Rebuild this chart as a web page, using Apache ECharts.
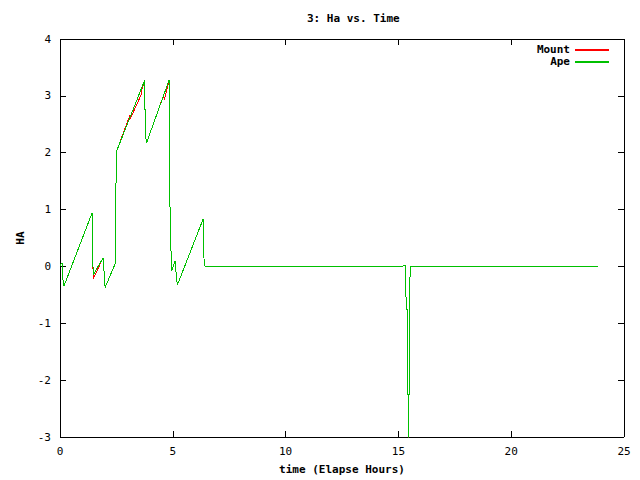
<!DOCTYPE html>
<html><head><meta charset="utf-8">
<script src="https://cdn.jsdelivr.net/npm/echarts@6/dist/echarts.min.js"></script>
<style>html,body{margin:0;padding:0;background:#fff;overflow:hidden}#c{width:640px;height:480px}
#c svg path{shape-rendering:crispEdges}</style>
</head><body><div id="c"></div>
<script>
const title = "3: Ha vs. Time";
const xName = "time (Elapse Hours)";
const yName = "HA";
const seriesNames = ["Mount", "Ape"];
const xTicks = [0, 5, 10, 15, 20, 25];
const yTicks = [-3, -2, -1, 0, 1, 2, 3, 4];

// Elapsed hours and HA values
const apeHours = [0, 0.05, 0.1, 0.12, 0.18, 1.42, 1.43, 1.47, 1.91, 2.0, 2.45, 2.47, 2.5, 2.53, 3.75, 3.77, 3.82, 3.86, 4.84, 4.86, 4.88, 4.95, 5.1, 5.13, 5.2, 6.35, 6.36, 6.43, 15.2, 15.21, 15.33, 15.34, 15.39, 15.4, 15.43, 15.44, 15.46, 15.47, 15.49, 15.5, 15.51, 15.52, 23.85];
const apeHA    = [0, 0.05, 0.05, -0.2, -0.34, 0.94, 0.75, -0.15, 0.15, -0.37, 0.05, 1.06, 2.02, 2.05, 3.27, 2.72, 2.17, 2.2, 3.28, 2.44, 0.77, -0.08, 0.1, -0.05, -0.33, 0.84, 0.21, 0, 0, 0.02, 0.02, -0.75, -0.76, -2.25, -2.26, -5, -5, -2.25, -2.24, -0.75, -0.74, 0, 0];

const mountHours = [0, 0.05, 0.1, 0.12, 0.18, 1.40, 1.42, 1.43, 1.45, 1.47, 1.49, 1.91, 2.0, 2.45, 2.47, 2.5, 2.53, 3.1, 3.12, 3.6, 3.62, 3.75, 3.77, 3.82, 3.86, 4.6, 4.62, 4.84, 4.86, 4.88, 4.95, 5.1, 5.13, 5.2, 6.35, 6.36, 6.43, 15.2, 15.21, 15.33, 15.34, 15.39, 15.4, 15.43, 15.44, 15.46, 15.47, 15.49, 15.5, 15.51, 15.52, 23.85];
const mountHA    = [0, 0.05, 0.05, -0.2, -0.34, 0.92, 0.94, 0.7, 0.3, -0.21, -0.2, 0.15, -0.37, 0.05, 1.06, 2.02, 2.05, 2.66, 2.6, 3.02, 3.1, 3.27, 2.72, 2.17, 2.2, 3.02, 2.92, 3.28, 2.44, 0.77, -0.08, 0.1, -0.05, -0.33, 0.84, 0.21, 0, 0, 0.02, 0.02, -0.75, -0.76, -2.25, -2.26, -5, -5, -2.25, -2.24, -0.75, -0.74, 0, 0];

const colors = ['#ff0000', '#00c000'];
const zip = (xs, ys) => xs.map((x, i) => [x, ys[i]]);
const font = "'DejaVu Sans Mono', monospace";

const chart = echarts.init(document.getElementById('c'), null, {renderer: 'svg', width: 640, height: 480});
const axisCommon = {
  axisLine: {show: true, onZero: false, lineStyle: {color: '#000', width: 1}},
  axisTick: {show: true, inside: true, length: 6, lineStyle: {color: '#000'}},
  splitLine: {show: false}
};
chart.setOption({
  animation: false,
  backgroundColor: '#fff',
  title: {text: title, left: 302, top: 8,
    textStyle: {fontFamily: font, fontWeight: 'bold', fontSize: 11, color: '#000'}},
  legend: {orient: 'vertical', right: 26, top: 39, align: 'right', icon: 'rect',
    itemWidth: 34, itemHeight: 2, itemGap: 1,
    itemStyle: {borderWidth: 0},
    textStyle: {fontFamily: font, fontWeight: 'bold', fontSize: 11, color: '#000'},
    data: seriesNames.map((n, i) => ({name: n, itemStyle: {color: colors[i], borderWidth: 0}}))},
  grid: {left: 60, right: 16, top: 39, bottom: 36},
  xAxis: [
    Object.assign({type: 'value', min: 0, max: 25, interval: 5, position: 'bottom',
      name: xName, nameLocation: 'middle', nameGap: 27,
      nameTextStyle: {fontFamily: font, fontWeight: 'bold', fontSize: 11, color: '#000'},
      axisLabel: {fontFamily: font, fontSize: 11, color: '#000', margin: 9}}, axisCommon),
    Object.assign({type: 'value', min: 0, max: 25, interval: 5, position: 'top',
      axisLabel: {show: false}}, axisCommon)
  ],
  yAxis: [
    Object.assign({type: 'value', min: -3, max: 4, interval: 1, position: 'left',
      name: yName, nameLocation: 'middle', nameGap: 34, nameRotate: 90,
      nameTextStyle: {fontFamily: font, fontWeight: 'bold', fontSize: 11, color: '#000'},
      axisLabel: {fontFamily: font, fontSize: 11, color: '#000', margin: 9}}, axisCommon),
    Object.assign({type: 'value', min: -3, max: 4, interval: 1, position: 'right',
      axisLabel: {show: false}}, axisCommon)
  ],
  series: [
    {name: seriesNames[0], type: 'line', data: zip(mountHours, mountHA), showSymbol: false,
      symbol: 'none', clip: true, lineStyle: {color: colors[0], width: 1}, itemStyle: {color: colors[0]}},
    {name: seriesNames[1], type: 'line', data: zip(apeHours, apeHA), showSymbol: false,
      symbol: 'none', clip: true, lineStyle: {color: colors[1], width: 1}, itemStyle: {color: colors[1]}}
  ]
});
</script></body></html>
